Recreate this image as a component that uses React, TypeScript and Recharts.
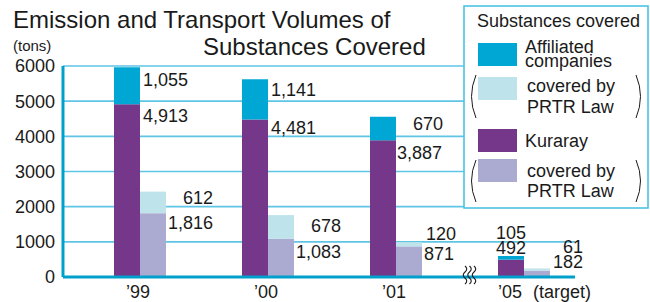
import { Bar, BarChart, CartesianGrid, LabelList, ReferenceLine, XAxis, YAxis } from "recharts";

const years = ["’99", "’00", "’01", "’05"];
const yearNotes = ["", "", "", "(target)"];
const kuraray = [4913, 4481, 3887, 492];
const affiliated = [1055, 1141, 670, 105];
const kurarayPrtr = [1816, 1083, 871, 182];
const affiliatedPrtr = [612, 678, 120, 61];
const yTicks = [0, 1000, 2000, 3000, 4000, 5000, 6000];

const legendTitle = "Substances covered";
const legendItems = [
  { lines: ["Affiliated", "companies"], color: "#00a7d4" },
  { lines: ["covered by", "PRTR Law"], color: "#bfe3eb" },
  { lines: ["Kuraray"], color: "#753789" },
  { lines: ["covered by", "PRTR Law"], color: "#abaad1" },
];

const data = years.map((year, i) => ({
  year,
  kuraray: kuraray[i],
  affiliated: affiliated[i],
  kurarayPrtr: kurarayPrtr[i],
  affiliatedPrtr: affiliatedPrtr[i],
}));

const FONT = '"Liberation Sans", Arial, sans-serif';
const W = 650;
const H = 302;
const TOP = 66;
const BOTTOM = 277;
const LEGEND_X = 464;
const GRID = "#5ec5e5";
const AXIS = "#00a0cc";

// label offsets: [dx from bar right edge, dy of text centre from segment top]
const nudges: Record<string, number[][]> = {
  kuraray: [[3, 11], [3, 8], [1, 12], [-28, -12]],
  affiliated: [[3, 12], [3, 10], [17, 7], [-28, -23]],
  kurarayPrtr: [[2, 9], [2, 13], [2, 7], [3, -9]],
  affiliatedPrtr: [[17, 6], [17, 10], [4, -9], [13, -22]],
};

const valueLabel = (key: string) => (props: any) => {
  const vb = props.viewBox ?? props;
  const i = props.index ?? 0;
  const [dx, dy] = nudges[key][i];
  return (
    <text
      x={Number(vb.x) + Number(vb.width) + dx}
      y={Number(vb.y) + dy}
      dy="0.36em"
      fontSize={18}
      fontFamily={FONT}
      fill="#1a1a1a"
    >
      {Number(props.value).toLocaleString("en-US")}
    </text>
  );
};

function YearTick({ x, y, payload }: any) {
  const note = yearNotes[payload.index];
  return (
    <g fontFamily={FONT} fontSize={18} fill="#1a1a1a">
      <text x={note ? x - 14 : x - 2} y={y} dy="0.71em" textAnchor="middle">
        {payload.value}
      </text>
      {note && (
        <text x={x + 9} y={y} dy="0.71em">
          {note}
        </text>
      )}
    </g>
  );
}

function gridLine(p: any) {
  const v = ((BOTTOM - p.y1) / (BOTTOM - TOP)) * 6000;
  if (v < 500) return <g key={p.key} />;
  const x2 = v < 1500 ? p.x2 - 13 : LEGEND_X;
  return <line key={p.key} x1={p.x1} y1={p.y1} x2={x2} y2={p.y2} stroke={GRID} strokeWidth={1.6} />;
}

function Baseline(p: any) {
  const bx = p.x2 - 118;
  const squiggles = [0, 4.5, 9].map((o) => {
    const x0 = bx - 5 + o;
    return `M ${x0} 266 q 3.5 3 0 6 q -3.5 3 0 6 q 3.5 3 0 6`;
  });
  return (
    <g>
      <line x1={p.x1} y1={p.y1} x2={p.x2 - 13} y2={p.y2} stroke={AXIS} strokeWidth={3.2} />
      {squiggles.map((d, i) => (
        <path key={i} d={d} fill="none" stroke="#1a1a1a" strokeWidth={1.1} />
      ))}
    </g>
  );
}

function Paren({ x, y1, y2, dir }: { x: number; y1: number; y2: number; dir: number }) {
  const mid = (y1 + y2) / 2;
  return <path d={`M ${x} ${y1} Q ${x - dir * 9} ${mid} ${x} ${y2}`} fill="none" stroke="#1a1a1a" strokeWidth={1} />;
}

function Overlay() {
  const swatchY = [43, 77, 129, 159];
  const textY = [[53, 67], [92, 113], [147], [177, 197]];
  return (
    <svg width={W} height={H} style={{ position: "absolute", left: 0, top: 0, pointerEvents: "none" }}>
      <g fontFamily={FONT} fill="#1a1a1a">
        <text x={13} y={28} fontSize={24}>
          Emission and Transport Volumes of
        </text>
        <text x={203} y={55} fontSize={24}>
          Substances Covered
        </text>
        <text x={13} y={51} fontSize={15}>
          (tons)
        </text>
      </g>
      <rect x={LEGEND_X} y={6} width={184} height={202} fill="#fff" stroke="#4dc3e3" strokeWidth={1.6} />
      <g fontFamily={FONT} fill="#1a1a1a" fontSize={18}>
        <text x={477} y={27}>
          {legendTitle}
        </text>
        {legendItems.map((item, i) => (
          <g key={i}>
            <rect x={478} y={swatchY[i]} width={39} height={23} fill={item.color} />
            {item.lines.map((line, j) => (
              <text key={j} x={i % 2 === 1 ? 527 : 525} y={textY[i][j]}>
                {line}
              </text>
            ))}
          </g>
        ))}
      </g>
      <Paren x={476} y1={75} y2={118} dir={1} />
      <Paren x={636} y1={75} y2={118} dir={-1} />
      <Paren x={476} y1={160} y2={202} dir={1} />
      <Paren x={636} y1={160} y2={202} dir={-1} />
    </svg>
  );
}

export default function App() {
  return (
    <div style={{ position: "absolute", left: 0, top: 0, width: W, height: H, background: "#fff" }}>
      <BarChart
        width={W}
        height={H}
        data={data}
        margin={{ top: TOP, right: 62, bottom: 0, left: 3 }}
        barSize={26}
        barGap={0}
      >
        <CartesianGrid vertical={false} horizontal={gridLine} />
        <XAxis
          dataKey="year"
          height={H - BOTTOM}
          padding={{ left: 13, right: 0 }}
          axisLine={false}
          tickLine={false}
          tick={<YearTick />}
          interval={0}
        />
        <YAxis
          width={60}
          domain={[0, 6000]}
          ticks={yTicks}
          interval={0}
          axisLine={{ stroke: AXIS, strokeWidth: 3 }}
          tickLine={false}
          tick={{ fontSize: 18, fill: "#1a1a1a", fontFamily: FONT }}
        />
        <Bar dataKey="kuraray" stackId="k" fill="#753789" isAnimationActive={false}>
          <LabelList dataKey="kuraray" content={valueLabel("kuraray")} />
        </Bar>
        <Bar dataKey="affiliated" stackId="k" fill="#00a7d4" isAnimationActive={false}>
          <LabelList dataKey="affiliated" content={valueLabel("affiliated")} />
        </Bar>
        <Bar dataKey="kurarayPrtr" stackId="p" fill="#abaad1" isAnimationActive={false}>
          <LabelList dataKey="kurarayPrtr" content={valueLabel("kurarayPrtr")} />
        </Bar>
        <Bar dataKey="affiliatedPrtr" stackId="p" fill="#bfe3eb" isAnimationActive={false}>
          <LabelList dataKey="affiliatedPrtr" content={valueLabel("affiliatedPrtr")} />
        </Bar>
        <ReferenceLine y={0} shape={Baseline} />
      </BarChart>
      <Overlay />
    </div>
  );
}
